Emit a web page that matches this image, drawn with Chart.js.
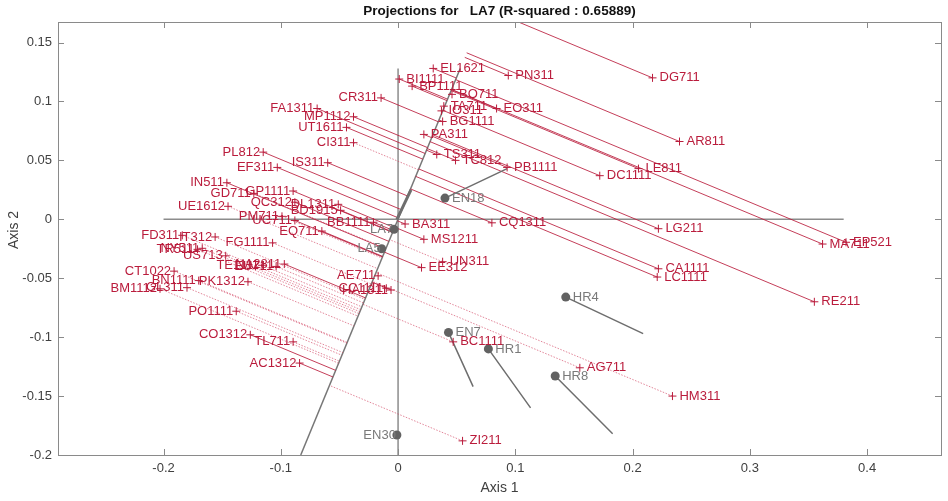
<!DOCTYPE html>
<html>
<head>
<meta charset="utf-8">
<script src="https://cdn.jsdelivr.net/npm/chart.js@4.4.1/dist/chart.umd.min.js"></script>
<style>
  html, body { margin: 0; padding: 0; background: #fff; }
</style>
</head>
<body>
<canvas id="chart" width="948" height="501"></canvas>
<script>
// active variables (red crosses)
const names = ['EL1621', 'BI1111', 'BP1111', 'PN311', 'DG711', 'BO711', 'TA711', 'IO311', 'EO311', 'BG1111',
  'PA311', 'TS311', 'TC812', 'PB1111', 'LE811', 'AR811', 'DC1111', 'MA711', 'EP521', 'RE211',
  'LG211', 'CA1111', 'LC1111', 'CQ1311', 'BA311', 'MS1211', 'UN311', 'EE312', 'BC1111', 'AG711',
  'HM311', 'ZI211', 'CR311', 'FA1311', 'MP1112', 'UT1611', 'CI311', 'PL812', 'IS311', 'EF311',
  'IN511', 'GP1111', 'GD711', 'UE1612', 'QC312', 'DL1311', 'BD1915', 'PM711', 'UC711', 'BB1111',
  'EQ711', 'FD311', 'IT312', 'FG1111', 'TR511', 'NY511', 'US713', 'TE1111', 'EU711', 'NA2811',
  'CT1022', 'BN1111', 'GL311', 'BM1112', 'PK1312', 'AE711', 'CC1111', 'HA1311', 'PO1111', 'CO1312',
  'TL711', 'AC1312'];
const axis1 = [0.030, 0.001, 0.012, 0.094, 0.217, 0.046, 0.039, 0.037, 0.084, 0.038,
  0.022, 0.033, 0.049, 0.093, 0.205, 0.240, 0.172, 0.362, 0.382, 0.355,
  0.222, 0.222, 0.221, 0.080, 0.006, 0.022, 0.038, 0.020, 0.047, 0.155,
  0.234, 0.055, -0.0145, -0.069, -0.038, -0.044, -0.038, -0.115, -0.060, -0.103,
  -0.146, -0.0895, -0.123, -0.145, -0.088, -0.051, -0.049, -0.099, -0.088, -0.021,
  -0.065, -0.184, -0.156, -0.107, -0.171, -0.167, -0.147, -0.116, -0.104, -0.097,
  -0.191, -0.170, -0.180, -0.203, -0.128, -0.017, -0.010, -0.006, -0.138, -0.126,
  -0.0895, -0.084];
const axis2 = [0.128, 0.119, 0.113, 0.122, 0.120, 0.106, 0.096, 0.092, 0.094, 0.083,
  0.072, 0.055, 0.050, 0.044, 0.043, 0.066, 0.037, -0.021, -0.0195, -0.070,
  -0.008, -0.042, -0.049, -0.003, -0.004, -0.017, -0.036, -0.041, -0.104, -0.126,
  -0.150, -0.188, 0.103, 0.094, 0.087, 0.078, 0.065, 0.057, 0.048, 0.044,
  0.031, 0.024, 0.022, 0.011, 0.0145, 0.0127, 0.0076, 0.0025, -0.001, -0.0025,
  -0.010, -0.0136, -0.015, -0.020, -0.0255, -0.0246, -0.031, -0.039, -0.040, -0.038,
  -0.044, -0.052, -0.058, -0.059, -0.053, -0.048, -0.0585, -0.060, -0.078, -0.098,
  -0.104, -0.122];
// 1 = well represented (solid projection), 0 = poorly represented (dotted)
const wellRep = [1, 1, 1, 1, 1, 1, 1, 1, 1, 1,
  1, 1, 1, 1, 1, 1, 1, 1, 1, 1,
  1, 1, 1, 1, 1, 1, 0, 1, 0, 0,
  0, 0, 1, 1, 1, 1, 0, 1, 1, 1,
  1, 1, 0, 0, 1, 1, 1, 0, 1, 1,
  1, 0, 0, 0, 0, 0, 0, 0, 0, 1,
  0, 0, 0, 0, 0, 0, 0, 1, 0, 1,
  0, 1];

// supplementary variables (grey dots) and their vectors
const supNames = ['EN18', 'LA7', 'LA5', 'EN7', 'HR1', 'HR4', 'HR8', 'EN30'];
const supX = [0.040, -0.0034, -0.014, 0.043, 0.077, 0.143, 0.134, -0.001];
const supY = [0.018, -0.0085, -0.025, -0.096, -0.110, -0.066, -0.133, -0.183];
const vecNames = ['EN18', 'EN7', 'HR1', 'HR4', 'HR8'];
const vecX0 = [0.040, 0.043, 0.077, 0.143, 0.134];
const vecY0 = [0.018, -0.096, -0.110, -0.066, -0.133];
const vecX1 = [0.093, 0.064, 0.113, 0.209, 0.183];
const vecY1 = [0.043, -0.142, -0.160, -0.097, -0.182];

// LA7 projection axis and its short vector
const la7AxisX = [-0.083, 0.053];
const la7AxisY = [-0.2, 0.128];
const la7VecX = [-0.001, 0.011];
const la7VecY = [0.0, 0.025];

// origin cross
const hAxisX = [-0.2, 0.38];
const vAxisY = [-0.2, 0.128];

const xTicks = [-0.2, -0.1, 0, 0.1, 0.2, 0.3, 0.4];
const yTicks = [-0.2, -0.15, -0.1, -0.05, 0, 0.05, 0.1, 0.15];

const RED = 'rgb(186,28,60)';
const GREY = '#626262';
const FONT = '"Liberation Sans", Arial, Helvetica, sans-serif';

// projection of each point onto the LA7 axis
const dx = la7AxisX[1] - la7AxisX[0], dy = la7AxisY[1] - la7AxisY[0];
const dl = Math.hypot(dx, dy);
const ux = dx / dl, uy = dy / dl;
function project(x, y) {
  const t = (x - la7AxisX[0]) * ux + (y - la7AxisY[0]) * uy;
  return { x: la7AxisX[0] + t * ux, y: la7AxisY[0] + t * uy };
}

function projLines(flag) {
  const out = [];
  names.forEach((n, i) => {
    if (wellRep[i] !== flag) return;
    const p = project(axis1[i], axis2[i]);
    out.push({ x: axis1[i], y: axis2[i] }, { x: p.x, y: p.y }, { x: p.x, y: null });
  });
  return out;
}

const vecData = [];
vecNames.forEach((n, i) => {
  vecData.push({ x: vecX0[i], y: vecY0[i] }, { x: vecX1[i], y: vecY1[i] }, { x: vecX1[i], y: null });
});

const lineDs = (data, color, width, dash, order) => ({
  data, showLine: true, pointRadius: 0, pointHoverRadius: 0, borderColor: color,
  borderWidth: width, borderDash: dash, spanGaps: false, order
});

const labelPlugin = {
  id: 'pointLabels',
  afterDatasetsDraw(chart) {
    const ctx = chart.ctx;
    ctx.save();
    ctx.font = '13px ' + FONT;
    ctx.textBaseline = 'middle';
    chart.data.datasets.forEach((ds, i) => {
      if (!ds.labels) return;
      const meta = chart.getDatasetMeta(i);
      ctx.fillStyle = ds.labelColor;
      meta.data.forEach((el, j) => {
        if (ds.data[j].x > 0) {
          ctx.textAlign = 'left';
          ctx.fillText(ds.labels[j], el.x + ds.offR, el.y);
        } else {
          ctx.textAlign = 'right';
          ctx.fillText(ds.labels[j], el.x - ds.offL, el.y);
        }
      });
    });
    ctx.restore();
  }
};

const framePlugin = {
  id: 'frame',
  afterDraw(chart) {
    const { ctx, chartArea: a, scales } = chart;
    ctx.save();
    ctx.strokeStyle = '#8a8a8a';
    ctx.lineWidth = 1;
    ctx.strokeRect(a.left + 0.5, a.top + 0.5, a.right - a.left, a.bottom - a.top);
    ctx.beginPath();
    xTicks.forEach(v => {
      const px = Math.round(scales.x.getPixelForValue(v)) + 0.5;
      ctx.moveTo(px, a.bottom); ctx.lineTo(px, a.bottom - 6);
      ctx.moveTo(px, a.top); ctx.lineTo(px, a.top + 6);
    });
    yTicks.forEach(v => {
      const py = Math.round(scales.y.getPixelForValue(v)) + 0.5;
      ctx.moveTo(a.left, py); ctx.lineTo(a.left + 6, py);
      ctx.moveTo(a.right, py); ctx.lineTo(a.right - 6, py);
    });
    ctx.stroke();

    ctx.fillStyle = '#111';
    ctx.font = 'bold 13.5px ' + FONT;
    ctx.textAlign = 'center';
    ctx.textBaseline = 'middle';
    ctx.fillText('Projections for   LA7 (R-squared : 0.65889)', (a.left + a.right) / 2, 11);

    ctx.fillStyle = '#404040';
    ctx.font = '14px ' + FONT;
    ctx.fillText('Axis 1', (a.left + a.right) / 2, 488);
    ctx.translate(14, 230);
    ctx.rotate(-Math.PI / 2);
    ctx.fillText('Axis 2', 0, 0);
    ctx.restore();
  }
};

new Chart(document.getElementById('chart'), {
  type: 'scatter',
  data: {
    datasets: [
      {
        data: names.map((n, i) => ({ x: axis1[i], y: axis2[i] })),
        labels: names, labelColor: RED, offR: 7, offL: 3,
        pointStyle: 'cross', pointRadius: 4, pointBorderWidth: 1,
        borderColor: RED, backgroundColor: RED, order: 1
      },
      {
        data: supNames.map((n, i) => ({ x: supX[i], y: supY[i] })),
        labels: supNames, labelColor: '#7a7a7a', offR: 7, offL: 1,
        pointStyle: 'circle', pointRadius: 4.5, pointBorderWidth: 0,
        borderColor: GREY, backgroundColor: GREY, order: 0
      },
      lineDs(vecData, '#6e6e6e', 1.5, [], 2),
      lineDs([{ x: la7VecX[0], y: la7VecY[0] }, { x: la7VecX[1], y: la7VecY[1] }], '#6e6e6e', 3, [], 3),
      lineDs(projLines(1), 'rgba(186,28,60,0.85)', 1, [], 4),
      lineDs(projLines(0), 'rgba(210,70,100,0.65)', 1, [1.5, 1.5], 5),
      lineDs([{ x: la7AxisX[0], y: la7AxisY[0] }, { x: la7AxisX[1], y: la7AxisY[1] }], '#777', 1.5, [], 6),
      lineDs([{ x: hAxisX[0], y: 0 }, { x: hAxisX[1], y: 0 }], '#8c8c8c', 1.5, [], 7),
      lineDs([{ x: 0, y: vAxisY[0] }, { x: 0, y: vAxisY[1] }], '#8c8c8c', 1.5, [], 7)
    ]
  },
  options: {
    responsive: false,
    animation: false,
    layout: { padding: { top: 22, right: 7, left: 0, bottom: 0 } },
    plugins: { legend: { display: false }, tooltip: { enabled: false }, title: { display: false } },
    scales: {
      x: {
        type: 'linear', min: -0.29, max: 0.463,
        grid: { display: false, drawTicks: false }, border: { display: false },
        afterBuildTicks: s => { s.ticks = xTicks.map(value => ({ value })); },
        afterFit: s => { s.height = 46; },
        ticks: { padding: 6, color: '#404040', font: { size: 13, family: FONT }, callback: v => String(v) }
      },
      y: {
        type: 'linear', min: -0.2, max: 0.1674,
        grid: { display: false, drawTicks: false }, border: { display: false },
        afterBuildTicks: s => { s.ticks = yTicks.map(value => ({ value })); },
        afterFit: s => { s.width = 58; },
        ticks: { padding: 6, color: '#404040', font: { size: 13, family: FONT }, callback: v => String(v) }
      }
    }
  },
  plugins: [labelPlugin, framePlugin]
});
</script>
</body>
</html>
